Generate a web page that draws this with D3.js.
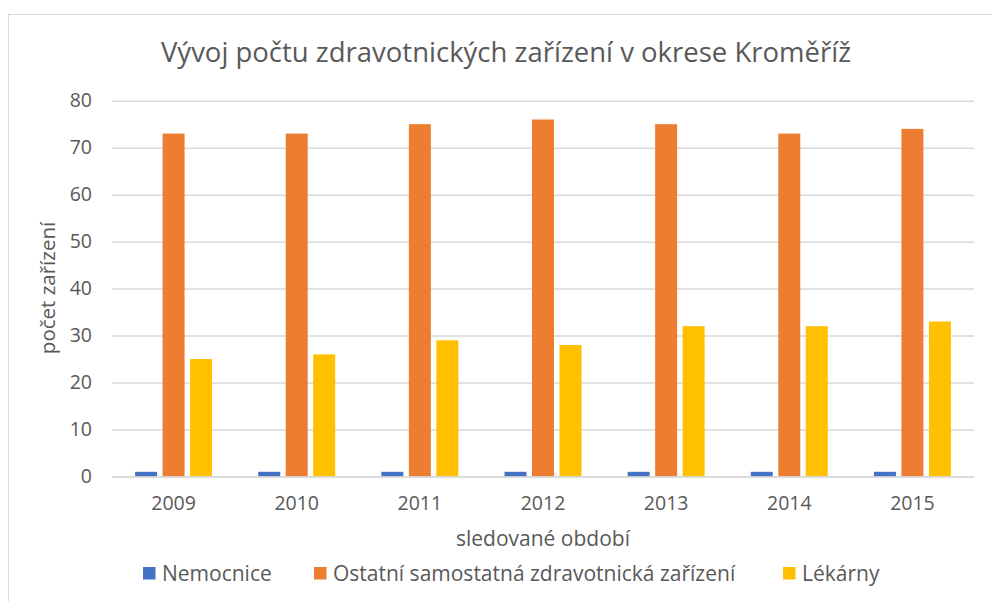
<!DOCTYPE html>
<html>
<head>
<meta charset="utf-8">
<script src="https://cdn.jsdelivr.net/npm/d3@7"></script>
<style>
  body { margin: 0; background: #fff; }
  text { font-family: "Open Sans", sans-serif; fill: #595959; }
</style>
</head>
<body>
<div id="chart"></div>
<script>
const years = ['2009', '2010', '2011', '2012', '2013', '2014', '2015'];
const seriesNames = ['Nemocnice', 'Ostatní samostatná zdravotnická zařízení', 'Lékárny'];
const nemocnice = [1, 1, 1, 1, 1, 1, 1];
const ostatni = [73, 73, 75, 76, 75, 73, 74];
const lekarny = [25, 26, 29, 28, 32, 32, 33];
const yTicks = [0, 10, 20, 30, 40, 50, 60, 70, 80];

const colors = ['#4472C4', '#ED7D31', '#FFC000'];
const values = [nemocnice, ostatni, lekarny];

const rows = years.map((y, i) => ({
  year: y,
  vals: seriesNames.map((s, j) => ({ key: s, value: values[j][i], color: colors[j] }))
}));

const width = 992;
const height = 601;
const margin = { top: 100.7, right: 18, bottom: 124.5, left: 112 };
const usable = {
  left: margin.left,
  right: width - margin.right,
  top: margin.top,
  bottom: height - margin.bottom
};

const svg = d3.select('#chart')
  .append('svg')
  .attr('width', width)
  .attr('height', height);

// chart border (cropped at right and bottom)
svg.append('rect')
  .attr('x', 8.5).attr('y', 14.5)
  .attr('width', 1000).attr('height', 700)
  .attr('fill', 'none')
  .attr('stroke', '#D9D9D9');

const x0 = d3.scaleBand()
  .domain(years)
  .range([usable.left, usable.right])
  .paddingInner(0.375)
  .paddingOuter(0.1875);

const x1 = d3.scaleBand()
  .domain(seriesNames)
  .range([0, x0.bandwidth()])
  .paddingInner(0.2);

const y = d3.scaleLinear().domain([0, 80]).range([usable.bottom, usable.top]);

// gridlines
svg.append('g')
  .attr('class', 'gridlines')
  .attr('transform', `translate(${usable.left}, 0)`)
  .call(d3.axisLeft(y).tickValues(yTicks).tickFormat('').tickSize(-(usable.right - usable.left)))
  .call(g => g.select('.domain').remove())
  .call(g => g.selectAll('line').attr('stroke', '#D9D9D9').attr('stroke-width', 1.5));

// y tick labels
svg.append('g')
  .attr('transform', `translate(${usable.left}, 0)`)
  .call(d3.axisLeft(y).tickValues(yTicks).tickSize(0).tickPadding(20))
  .call(g => g.select('.domain').remove())
  .call(g => g.selectAll('text').style('font-size', '19.5px').attr('fill', '#595959'));

// bars
svg.append('g')
  .selectAll('g')
  .data(rows)
  .join('g')
  .attr('transform', d => `translate(${x0(d.year)}, 0)`)
  .selectAll('rect')
  .data(d => d.vals)
  .join('rect')
  .attr('x', d => x1(d.key))
  .attr('y', d => y(d.value))
  .attr('width', x1.bandwidth())
  .attr('height', d => y(0) - y(d.value))
  .attr('fill', d => d.color);

// x axis
svg.append('g')
  .attr('transform', `translate(0, ${usable.bottom})`)
  .call(d3.axisBottom(x0).tickSize(0).tickPadding(20))
  .call(g => g.select('.domain').attr('stroke', '#D9D9D9').attr('stroke-width', 1.5))
  .call(g => g.selectAll('text').style('font-size', '19.5px').attr('fill', '#595959'));

// title
svg.append('text')
  .attr('x', 506)
  .attr('y', 62)
  .attr('text-anchor', 'middle')
  .style('font-size', '27.5px')
  .text('Vývoj počtu zdravotnických zařízení v okrese Kroměříž');

// axis titles
svg.append('text')
  .attr('x', 543)
  .attr('y', 546)
  .attr('text-anchor', 'middle')
  .style('font-size', '21px')
  .text('sledované období');

svg.append('text')
  .attr('transform', 'translate(55, 288) rotate(-90)')
  .attr('text-anchor', 'middle')
  .style('font-size', '20.5px')
  .text('počet zařízení');

// legend
const legendX = [143, 314, 783];
const legend = svg.append('g')
  .selectAll('g')
  .data(seriesNames)
  .join('g')
  .attr('transform', (d, i) => `translate(${legendX[i]}, 567)`);

legend.append('rect')
  .attr('width', 12.5).attr('height', 12.5)
  .attr('fill', (d, i) => colors[i]);

legend.append('text')
  .attr('x', 19)
  .attr('y', 13.5)
  .style('font-size', '21px')
  .text(d => d);
</script>
</body>
</html>
